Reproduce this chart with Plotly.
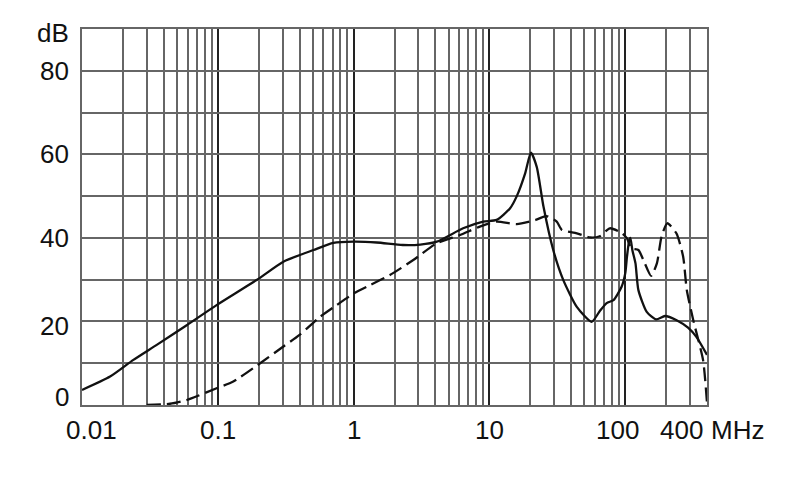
import math
import plotly.graph_objects as go

# ── Data (frequency in MHz, level in dB) ──
solid_f = [0.01, 0.0161, 0.0239, 0.0355, 0.059, 0.098, 0.193, 0.304, 0.506,
           0.71, 1.0, 1.48, 2.3, 3.1, 4.1, 6.4, 9.0, 11.3, 14.2, 15.9, 18.3,
           20.2, 22.3, 25, 29.5, 35, 44, 56.6, 65, 73, 82, 94, 100, 103, 107,
           109, 113, 119, 125, 144, 169, 196, 239, 290, 334, 400]
solid_db = [3.6, 6.8, 10.8, 14.4, 19.1, 23.9, 29.9, 34.3, 37.1,
            38.8, 39.1, 38.9, 38.3, 38.4, 39.1, 42.3, 43.9, 44.3, 47.1, 50.0, 55.4,
            60.4, 57.0, 47.5, 37.1, 29.9, 23.5, 19.9, 22.5, 24.4, 25.1, 28.3, 31.5, 35.5, 39.5,
            40.0, 37.0, 33.9, 27.5, 22.3, 20.5, 21.3, 20.3, 18.5, 16.3, 12.0]

dashed_f = [0.03, 0.0445, 0.059, 0.098, 0.13, 0.205, 0.304, 0.40, 0.566, 0.75,
            1.0, 1.32, 1.85, 2.75, 4.09, 6.08, 8.5, 11.3, 15.9, 21.9, 26.3,
            31.3, 34.2, 44, 55, 65, 77, 94, 103, 111, 125, 136, 155, 171, 185,
            204, 238, 267, 284, 317, 374, 400]
dashed_db = [0.0, 0.3, 1.2, 4.0, 5.6, 10.0, 14.0, 16.8, 21.1, 23.9,
             26.7, 28.7, 31.1, 34.7, 38.7, 40.7, 42.7, 43.9, 43.3, 44.3, 45.2,
             43.9, 41.9, 41.1, 40.1, 40.4, 42.3, 41.2, 39.9, 37.5, 37.1, 34.7, 30.9, 33.9, 40.3,
             43.5, 41.1, 35.5, 27.5, 20.3, 10.8, 0.5]

# axis labels (text, value where the label sits)
x_labels = ["0.01", "0.1", "1", "10", "100", "400"]
x_label_pos = [0.0118, 0.1, 1, 10, 87, 258]
x_unit = "MHz"
y_labels = ["0", "20", "40", "60", "80", "dB"]
y_label_pos = [1.9, 19, 40, 60, 80, 89]

decades = [0.01, 0.1, 1, 10, 100]
minor_grid = [m * d for d in [0.01, 0.1, 1, 10] for m in range(2, 10)] + [200, 300]

FONT = "Liberation Sans, Arial, sans-serif"
INK = "#111111"
GRID = "#666666"

fig = go.Figure()
fig.add_trace(go.Scatter(
    x=solid_f, y=solid_db, mode="lines",
    line=dict(color=INK, width=2.3, shape="spline", smoothing=0.6),
    showlegend=False,
))
fig.add_trace(go.Scatter(
    x=dashed_f, y=dashed_db, mode="lines",
    line=dict(color=INK, width=2.3, dash="14px,6px", shape="spline", smoothing=0.6),
    showlegend=False,
))

for txt, pos in zip(x_labels, x_label_pos):
    fig.add_annotation(
        x=math.log10(pos), y=0, xref="x", yref="paper",
        text=txt, showarrow=False, xanchor="center", yanchor="top", yshift=-8,
        font=dict(family=FONT, size=26, color=INK),
    )
fig.add_annotation(
    x=1.048, y=0, xref="paper", yref="paper",
    text=x_unit, showarrow=False, xanchor="center", yanchor="top", yshift=-8,
    font=dict(family=FONT, size=26, color=INK),
)
for txt, pos in zip(y_labels, y_label_pos):
    fig.add_annotation(
        x=0, y=pos, xref="paper", yref="y",
        text=txt, showarrow=False, xanchor="right", xshift=-11,
        font=dict(family=FONT, size=26, color=INK),
    )

fig.update_xaxes(
    type="log", range=[-2, math.log10(400)],
    tickvals=decades, showticklabels=False, ticks="",
    showgrid=True, gridcolor="#222222", gridwidth=2,
    minor=dict(tickvals=minor_grid, showgrid=True, gridcolor=GRID,
               gridwidth=1.5, ticks=""),
    showline=True, linecolor=GRID, linewidth=1.8, mirror=True, zeroline=False,
)
fig.update_yaxes(
    range=[0, 90], tickvals=list(range(0, 91, 10)),
    showticklabels=False, ticks="",
    showgrid=True, gridcolor=GRID, gridwidth=1.5,
    showline=True, linecolor=GRID, linewidth=1.8, mirror=True, zeroline=False,
)

# the page adds an 8 px body margin, so the figure is 8 px smaller each way
fig.update_layout(
    width=782, height=491,
    margin=dict(l=74, r=83, t=21, b=94),
    paper_bgcolor="white", plot_bgcolor="white",
    font=dict(family=FONT, color=INK),
)

fig.write_html("out.html")
